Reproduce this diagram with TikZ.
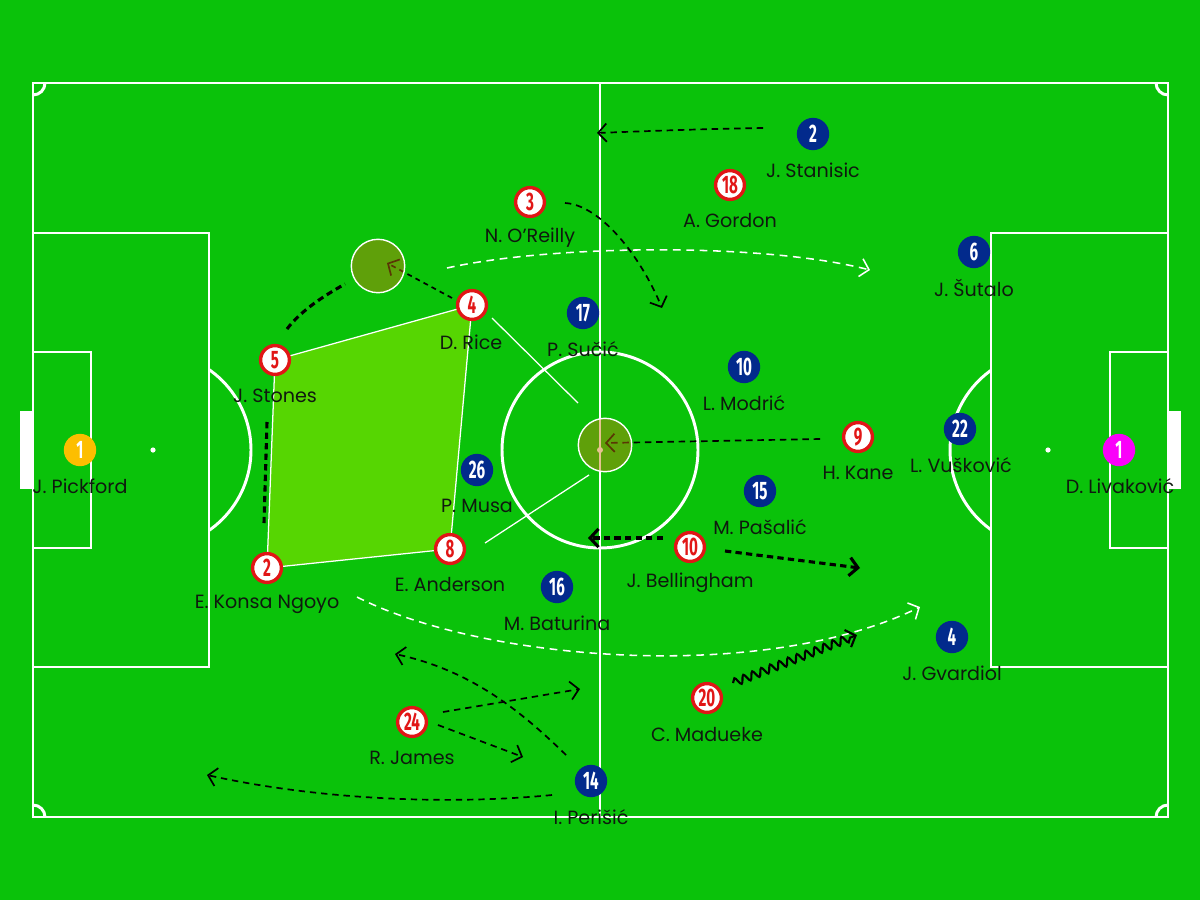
\documentclass[tikz,border=0pt]{standalone}
\usepackage{fontspec}
\setmainfont{Poppins}
\newfontfamily\numfont[FakeStretch=0.6]{Fira Sans}
\usetikzlibrary{arrows.meta,decorations.pathmorphing}
\definecolor{pitch}{RGB}{10,194,10}
\definecolor{zone}{RGB}{86,214,2}
\definecolor{ringred}{RGB}{225,22,22}
\definecolor{navy}{RGB}{2,42,140}
\definecolor{gkyellow}{RGB}{253,190,0}
\definecolor{gkmag}{RGB}{250,0,250}
\definecolor{ink}{RGB}{15,25,15}
\definecolor{ballzone}{RGB}{200,120,10}
\tikzset{
  pline/.style={white, line width=2.1pt},
  redp/.style={circle, draw=ringred, line width=2.4pt, fill=white, minimum size=20.5pt, inner sep=0pt, text=ringred, font=\numfont\bfseries\fontsize{18}{18}\selectfont},
  bluep/.style={circle, fill=navy, minimum size=23pt, inner sep=0pt, text=white, font=\numfont\bfseries\fontsize{18}{18}\selectfont},
  gkp/.style={circle, minimum size=23pt, inner sep=0pt, text=white, font=\numfont\bfseries\fontsize{18}{18}\selectfont},
  nm/.style={text=ink, inner sep=0pt, font=\fontsize{13.6}{15}\selectfont},
  tip/.style={-{Straight Barb[length=6pt,width=13pt]}},
  run/.style={black, line width=1.2pt, dash pattern=on 4.5pt off 3.5pt, tip},
  bigrun/.style={black, line width=2.2pt, dash pattern=on 4.5pt off 3pt},
  pass/.style={white, line width=1.1pt, dash pattern=on 5.5pt off 4pt, tip},
  thinw/.style={white, line width=0.9pt},
  ballz/.style={circle, draw=white, line width=1pt, fill=ballzone, fill opacity=0.45, minimum size=38pt, inner sep=0pt}
}
\begin{document}
\begin{tikzpicture}[x=0.025cm,y=-0.025cm]
\useasboundingbox (0,0) rectangle (1200,900);
\fill[pitch] (0,0) rectangle (1200,900);
% pitch markings
\draw[pline] (33,83) rectangle (1168,817);
\draw[pline] (600,83) -- (600,817);
\draw[pline] (600,450) circle (98);
\draw[pline] (33,233) rectangle (209,667);
\draw[pline] (33,352) rectangle (91,548);
\draw[pline] (991,233) rectangle (1168,667);
\draw[pline] (1110,352) rectangle (1168,548);
\fill[white] (20,411) rectangle (33,489);
\fill[white] (1168,411) rectangle (1181,489);
\fill[white] (153,450) circle (2.6);
\fill[white] (1048,450) circle (2.6);
\fill[white] (600,450) circle (3);
\begin{scope}
  \clip (209,0) rectangle (300,900);
  \draw[pline] (153,450) circle (98);
\end{scope}
\begin{scope}
  \clip (900,0) rectangle (991,900);
  \draw[pline] (1048,450) circle (98);
\end{scope}
\begin{scope}
  \clip (33,83) rectangle (1168,817);
  \draw[pline] (33,83) circle (12);
  \draw[pline] (1168,83) circle (12);
  \draw[pline] (33,817) circle (12);
  \draw[pline] (1168,817) circle (12);
\end{scope}

% coordinates for players
\coordinate (p5) at (275,360);
\coordinate (p4) at (472,305);
\coordinate (p8) at (450,549);
\coordinate (p2) at (267,568);

% zone polygon
\filldraw[fill=zone, draw=white, line width=0.9pt] (p5) -- (p4) -- (p8) -- (p2) -- cycle;

% thin white lines
\coordinate (w1a) at (492,318); \coordinate (w1b) at (578,403);
\coordinate (w2a) at (485,543); \coordinate (w2b) at (589,475);
\draw[thinw] (w1a) -- (w1b);
\draw[thinw] (w2a) -- (w2b);

% passes (white dashed)
\coordinate (pa1) at (447,268); \coordinate (pa2) at (870,270);
\draw[pass] (pa1) .. controls (550,245) and (760,242) .. (pa2);
\coordinate (pb1) at (357,597); \coordinate (pb2) at (920,607);
\draw[pass] (pb1) .. controls (480,660) and (760,685) .. (pb2);

% runs (black dashed)
\coordinate (s1) at (763,128); \coordinate (s2) at (597,133);
\draw[run] (s1) .. controls (700,129) and (650,131) .. (s2);
\coordinate (o1) at (565,203); \coordinate (o2) at (662,308);
\draw[run] (o1) .. controls (600,205) and (640,255) .. (o2);
\coordinate (k1) at (820,439); \coordinate (k2) at (605,443);
\draw[run] (k1) -- (k2);
\coordinate (rc1) at (452,298); \coordinate (rc2) at (387,263);
\draw[run, dash pattern=on 3.5pt off 3pt] (rc1) -- (rc2);
\coordinate (st1) at (287,329); \coordinate (st2) at (345,284);
\draw[bigrun] (st1) .. controls (300,312) and (320,298) .. (st2);
\coordinate (sv1) at (267,422); \coordinate (sv2) at (264,523);
\draw[bigrun] (sv1) -- (sv2);
\coordinate (b1) at (663,538); \coordinate (b2) at (588,538);
\draw[bigrun, tip] (b1) -- (b2);
\coordinate (b3) at (725,551); \coordinate (b4) at (860,568);
\draw[bigrun, tip] (b3) -- (b4);
\coordinate (j1) at (443,712); \coordinate (j2) at (580,689);
\draw[run] (j1) -- (j2);
\coordinate (j3) at (438,725); \coordinate (j4) at (523,757);
\draw[run] (j3) -- (j4);
\coordinate (pe1) at (566,755); \coordinate (pe2) at (395,654);
\draw[run] (pe1) .. controls (520,710) and (470,670) .. (pe2);
\coordinate (pe3) at (552,795); \coordinate (pe4) at (207,775);
\draw[run] (pe3) .. controls (450,805) and (320,800) .. (pe4);
\coordinate (m1) at (733,683); \coordinate (m2) at (857,635);
\draw[black, line width=1.5pt, tip, decorate, decoration={snake, amplitude=2.8pt, segment length=6.8pt, post length=3pt}] (m1) -- (m2);

% ball zones
\node[ballz] (bz1) at (378,266) {};
\node[ballz] (bz2) at (605,445) {};

% red players
\node[redp] (r5) at (p5) {5};
\node[nm] (r5n) at (275,396) {J. Stones};
\node[redp] (r4) at (p4) {4};
\node[nm] (r4n) at (471,342) {D. Rice};
\node[redp] (r3) at (530,202) {3};
\node[nm] (r3n) at (530,238) {N. O'Reilly};
\node[redp] (r18) at (730,185) {18};
\node[nm] (r18n) at (730,221) {A. Gordon};
\node[redp] (r2) at (p2) {2};
\node[nm] (r2n) at (267,604) {E. Konsa Ngoyo};
\node[redp] (r8) at (p8) {8};
\node[nm] (r8n) at (450,585) {E. Anderson};
\node[redp] (r9) at (858,437) {9};
\node[nm] (r9n) at (858,473) {H. Kane};
\node[redp] (r10) at (690,547) {10};
\node[nm] (r10n) at (690,583) {J. Bellingham};
\node[redp] (r24) at (412,722) {24};
\node[nm] (r24n) at (412,758) {R. James};
\node[redp] (r20) at (707,698) {20};
\node[nm] (r20n) at (707,734) {C. Madueke};

% blue players
\node[bluep] (c2) at (813,134) {2};
\node[nm] (c2n) at (813,170) {J. Stanisic};
\node[bluep] (c6) at (974,252) {6};
\node[nm] (c6n) at (974,288) {J. Šutalo};
\node[bluep] (c17) at (583,313) {17};
\node[nm] (c17n) at (583,349) {P. Sučić};
\node[bluep] (c10) at (744,367) {10};
\node[nm] (c10n) at (744,403) {L. Modrić};
\node[bluep] (c22) at (960,429) {22};
\node[nm] (c22n) at (961,465) {L. Vušković};
\node[bluep] (c26) at (477,470) {26};
\node[nm] (c26n) at (477,506) {P. Musa};
\node[bluep] (c15) at (760,491) {15};
\node[nm] (c15n) at (760,527) {M. Pašalić};
\node[bluep] (c16) at (557,587) {16};
\node[nm] (c16n) at (557,623) {M. Baturina};
\node[bluep] (c4) at (952,637) {4};
\node[nm] (c4n) at (952,673) {J. Gvardiol};
\node[bluep] (c14) at (591,781) {14};
\node[nm] (c14n) at (591,817) {I. Perišić};

% goalkeepers
\node[gkp, fill=gkyellow] (g1) at (80,450) {1};
\node[nm] (g1n) at (80,486) {J. Pickford};
\node[gkp, fill=gkmag] (g2) at (1119,450) {1};
\node[nm] (g2n) at (1120,486) {D. Livaković};
\end{tikzpicture}
\end{document}
